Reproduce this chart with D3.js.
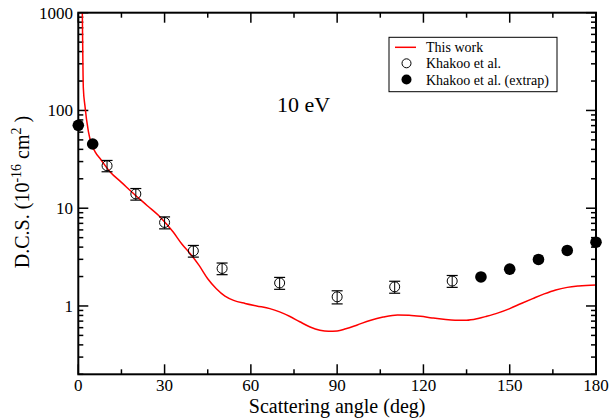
<!DOCTYPE html>
<html><head><meta charset="utf-8">
<script src="https://cdn.jsdelivr.net/npm/d3@7"></script>
<style>body{margin:0;background:#fff}svg{display:block}text{font-family:"Liberation Serif","Times New Roman",serif}</style>
</head><body><svg id="c" width="610" height="418"></svg>
<script>
// Theory curve ("This work")
const curveAngle = [1.2,1.4,1.6,1.75,2.3,3.5,4.5,5.8,8,11,15,19,24,28.5,33,36,39,42,45,48,51,54,58,62,66.6,70,73.6,77,80.6,84,87,90,93,97,101.4,106,111,115,119,123,127,131,135,139,142,146,150,154,158,162,166,170,174,180];
const curveDCS = [3000,1000,300,170,112,61,46,38,31,23.6,18.4,14.3,10.6,8.1,5.7,4.3,3.4,2.6,1.9,1.5,1.26,1.14,1.06,1.0,0.94,0.87,0.78,0.69,0.61,0.565,0.55,0.555,0.585,0.64,0.71,0.77,0.81,0.805,0.785,0.755,0.73,0.715,0.715,0.745,0.785,0.85,0.94,1.06,1.19,1.33,1.46,1.55,1.6,1.64];
// Khakoo et al. measured
const khAngle = [10,20,30,40,50,70,90,110,130];
const khDCS = [27.2,14.0,7.15,3.66,2.42,1.72,1.24,1.57,1.80];
const khErr = [3.6,1.9,1.0,0.5,0.33,0.24,0.19,0.22,0.25];
// Khakoo et al. extrapolated
const exAngle = [0,5,140,150,160,170,180];
const exDCS = [70.5,45.4,1.98,2.38,2.99,3.70,4.49];
// ticks
const xTicks = [0,30,60,90,120,150,180];
const yTicks = [1,10,100,1000];
const legendLabels = ["This work","Khakoo et al.","Khakoo et al. (extrap)"];

const svg = d3.select("#c");
const L=78.3,R=596,T=12.7,B=374.3;
const x = d3.scaleLinear().domain([0,180]).range([L,R]);
const y = d3.scaleLog().domain([0.2,1000]).range([B,T]);

svg.append("clipPath").attr("id","pc").append("rect").attr("x",L).attr("y",T).attr("width",R-L).attr("height",B-T);

// minor ticks
const xMinor = d3.range(15,180,30);
const yMinor = [];
[0.1,1,10,100].forEach(d=>{for(let k=2;k<=9;k++){const v=d*k; if(v>=0.2&&v<1000) yMinor.push(v);}});

const g = svg.append("g");
function tick(x1,y1,x2,y2){g.append("line").attr("x1",x1).attr("y1",y1).attr("x2",x2).attr("y2",y2).attr("stroke","#000").attr("stroke-width",1.5);}
xTicks.forEach(v=>{tick(x(v),B,x(v),B-10);tick(x(v),T,x(v),T+10);});
xMinor.forEach(v=>{tick(x(v),B,x(v),B-5);tick(x(v),T,x(v),T+5);});
yTicks.forEach(v=>{tick(L,y(v),L+10,y(v));tick(R,y(v),R-10,y(v));});
yMinor.forEach(v=>{tick(L,y(v),L+5,y(v));tick(R,y(v),R-5,y(v));});

// curve
const line = d3.line().x((d,i)=>x(curveAngle[i])).y((d,i)=>y(curveDCS[i])).curve(d3.curveMonotoneX);
svg.append("path").datum(curveDCS).attr("d",line).attr("fill","none").attr("stroke","#ff0000").attr("stroke-width",1.5).attr("clip-path","url(#pc)");

// error bars + open circles
const kg = svg.append("g");
khAngle.forEach((a,i)=>{
  const cx=x(a), y1=y(khDCS[i]+khErr[i]), y2=y(khDCS[i]-khErr[i]);
  kg.append("line").attr("x1",cx).attr("x2",cx).attr("y1",y1).attr("y2",y2).attr("stroke","#000").attr("stroke-width",1);
  [y1,y2].forEach(yy=>kg.append("line").attr("x1",cx-5.5).attr("x2",cx+5.5).attr("y1",yy).attr("y2",yy).attr("stroke","#000").attr("stroke-width",1.2));
  kg.append("circle").attr("cx",cx).attr("cy",y(khDCS[i])).attr("r",5).attr("fill","none").attr("stroke","#000").attr("stroke-width",1);
});
svg.append("g").selectAll("circle").data(exDCS).join("circle")
  .attr("cx",(d,i)=>x(exAngle[i])).attr("cy",d=>y(d)).attr("r",5.8).attr("fill","#000");

// frame
svg.append("rect").attr("x",L).attr("y",T).attr("width",R-L).attr("height",B-T).attr("fill","none").attr("stroke","#000").attr("stroke-width",2);

// tick labels
svg.append("g").selectAll("text").data(xTicks).join("text")
  .attr("x",d=>x(d)).attr("y",390.5).attr("text-anchor","middle").attr("font-size",17).text(d=>d);
svg.append("g").selectAll("text").data(yTicks).join("text")
  .attr("x",73).attr("y",d=>y(d)+6).attr("text-anchor","end").attr("font-size",17).text(d=>d);

// axis titles
svg.append("text").attr("x",x(90)).attr("y",413).attr("text-anchor","middle").attr("font-size",20).text("Scattering angle (deg)");
const yl = svg.append("text").attr("transform","translate(28.5,192) rotate(-90)").attr("text-anchor","middle").attr("font-size",20);
yl.append("tspan").text("D.C.S. (10");
yl.append("tspan").attr("dy",-8).attr("font-size",14).text("-16");
yl.append("tspan").attr("dy",8).text("  cm");
yl.append("tspan").attr("dy",-8).attr("font-size",14).text("2");
yl.append("tspan").attr("dy",8).text(" )");

svg.append("text").attr("x",277).attr("y",111.5).attr("font-size",22).text("10 eV");

// legend
const lg = svg.append("g");
lg.append("rect").attr("x",389).attr("y",37.3).attr("width",168).attr("height",54.4).attr("fill","#fff").attr("stroke","#000").attr("stroke-width",1);
lg.append("line").attr("x1",395).attr("x2",416).attr("y1",47.3).attr("y2",47.3).attr("stroke","#ff0000").attr("stroke-width",1.5);
lg.append("circle").attr("cx",406.5).attr("cy",63.3).attr("r",4.5).attr("fill","none").attr("stroke","#000").attr("stroke-width",1);
lg.append("circle").attr("cx",406.5).attr("cy",79.5).attr("r",5).attr("fill","#000");
legendLabels.forEach((t,i)=>lg.append("text").attr("x",426).attr("y",52+i*16.3).attr("font-size",14).text(t));
</script></body></html>
